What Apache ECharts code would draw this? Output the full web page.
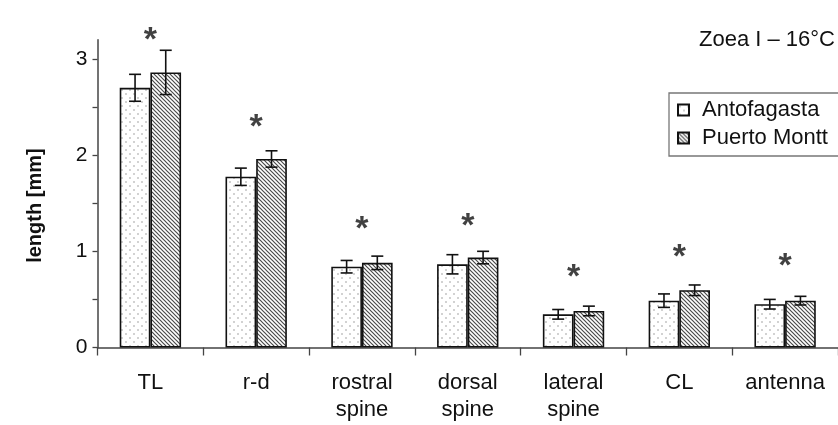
<!DOCTYPE html>
<html>
<head>
<meta charset="utf-8">
<script src="https://cdn.jsdelivr.net/npm/echarts@6/dist/echarts.min.js"></script>
<style>html,body{margin:0;padding:0;background:#fff}#c{width:838px;height:425px}</style>
</head>
<body>
<div id="c"></div>
<script>
const categories = ['TL', 'r-d', 'rostral\nspine', 'dorsal\nspine', 'lateral\nspine', 'CL', 'antenna'];
const antofagasta = [2.70, 1.775, 0.84, 0.865, 0.345, 0.487, 0.45];
const antofagastaErr = [0.14, 0.09, 0.065, 0.10, 0.05, 0.07, 0.05];
const puertoMontt = [2.86, 1.96, 0.88, 0.935, 0.38, 0.595, 0.487];
const puertoMonttErr = [0.23, 0.085, 0.07, 0.065, 0.05, 0.055, 0.045];
const starLevel = [3.27, 2.37, 1.31, 1.34, 0.805, 1.02, 0.92];
const yLabelValues = [0, 1, 2, 3];
const yTickValues = [0, 0.5, 1, 1.5, 2, 2.5, 3];

const FONT = 'Liberation Sans';
const BAR_FRAC = 0.29;

function dotPattern() {
  const c = document.createElement('canvas');
  c.width = 8; c.height = 8;
  const g = c.getContext('2d');
  g.fillStyle = '#fff'; g.fillRect(0, 0, 8, 8);
  g.fillStyle = '#999';
  g.beginPath(); g.arc(2, 2, 0.8, 0, Math.PI * 2); g.fill();
  g.beginPath(); g.arc(6, 6, 0.8, 0, Math.PI * 2); g.fill();
  return c;
}
function hatchPattern() {
  const c = document.createElement('canvas');
  c.width = 4; c.height = 4;
  const g = c.getContext('2d');
  g.fillStyle = '#fff'; g.fillRect(0, 0, 4, 4);
  g.strokeStyle = '#4a4a4a'; g.lineWidth = 1.2;
  g.beginPath();
  for (let k = -1; k <= 1; k++) { g.moveTo(k * 4 - 1, -1); g.lineTo(k * 4 + 5, 5); }
  g.stroke();
  return c;
}

function errSeries(name, vals, errs, sign) {
  return {
    name: name + ' err', type: 'custom', z: 5, silent: true, clip: false,
    data: vals.map((v, i) => [i, v, errs[i]]),
    renderItem: function (params, api) {
      const i = api.value(0), v = api.value(1), e = api.value(2);
      const bw = api.size([1, 0])[0];
      const cx = api.coord([i, v])[0] + sign * bw * BAR_FRAC / 2;
      const yt = api.coord([i, v + e])[1];
      const yb = api.coord([i, v - e])[1];
      const hw = 6;
      const st = { stroke: '#111', lineWidth: 1.6 };
      return { type: 'group', children: [
        { type: 'line', shape: { x1: cx, y1: yt, x2: cx, y2: yb }, style: st },
        { type: 'line', shape: { x1: cx - hw, y1: yt, x2: cx + hw, y2: yt }, style: st },
        { type: 'line', shape: { x1: cx - hw, y1: yb, x2: cx + hw, y2: yb }, style: st }
      ] };
    }
  };
}

const chart = echarts.init(document.getElementById('c'));
chart.setOption({
  animation: false,
  textStyle: { fontFamily: FONT },
  title: { text: 'Zoea I \u2013 16\u00b0C', left: 694, top: 24,
    textStyle: { fontFamily: FONT, fontSize: 22, fontWeight: 'normal', color: '#111' } },
  legend: {
    orient: 'vertical', left: 669, top: 93, itemWidth: 11, itemHeight: 11, itemGap: 6, icon: 'rect',
    padding: [6, 40, 7, 8], borderColor: '#777', borderWidth: 1.3,
    data: ['Antofagasta', 'Puerto Montt'],
    textStyle: { fontFamily: FONT, fontSize: 22, color: '#111', padding: [0, 0, 0, 8] }
  },
  grid: { left: 97.5, top: 39.7, width: 751, height: 307.8 },
  xAxis: {
    type: 'category', data: categories,
    axisLine: { lineStyle: { color: '#444', width: 1.5 } },
    axisTick: { show: true, length: 8, lineStyle: { color: '#444', width: 1.3 } },
    axisLabel: { fontFamily: FONT, fontSize: 22, color: '#111', margin: 22, lineHeight: 27, interval: 0 }
  },
  yAxis: {
    type: 'value', min: 0, max: 3.2, interval: 0.5,
    name: 'length [mm]', nameLocation: 'middle', nameRotate: 90, nameGap: 52,
    nameTextStyle: { fontFamily: FONT, fontSize: 20, fontWeight: 'bold', color: '#111', padding: [0, 24, 0, 0] },
    axisLine: { show: true, lineStyle: { color: '#444', width: 1.5 } },
    axisTick: { show: true, length: 5, customValues: yTickValues, lineStyle: { color: '#444', width: 1.3 } },
    axisLabel: { fontFamily: FONT, fontSize: 21, color: '#111', margin: 10, customValues: yLabelValues },
    splitLine: { show: false }
  },
  series: [
    { name: 'Antofagasta', type: 'bar', data: antofagasta, barWidth: (BAR_FRAC * 100) + '%', barGap: '0%',
      itemStyle: { color: { image: dotPattern(), repeat: 'repeat' }, borderColor: '#111', borderWidth: 1.6 } },
    { name: 'Puerto Montt', type: 'bar', data: puertoMontt, barWidth: (BAR_FRAC * 100) + '%', barGap: '0%',
      itemStyle: { color: { image: hatchPattern(), repeat: 'repeat' }, borderColor: '#111', borderWidth: 1.6 } },
    errSeries('Antofagasta', antofagasta, antofagastaErr, -1),
    errSeries('Puerto Montt', puertoMontt, puertoMonttErr, 1),
    { name: 'sig', type: 'scatter', symbolSize: 0, silent: true, z: 6, clip: false,
      data: starLevel.map((v, i) => [i, v]),
      label: { show: true, position: 'inside', formatter: '*', fontFamily: FONT, fontSize: 34, fontWeight: 'bold', color: '#111',
        verticalAlign: 'middle', offset: [0, 8] } }
  ]
});
</script>
</body>
</html>
